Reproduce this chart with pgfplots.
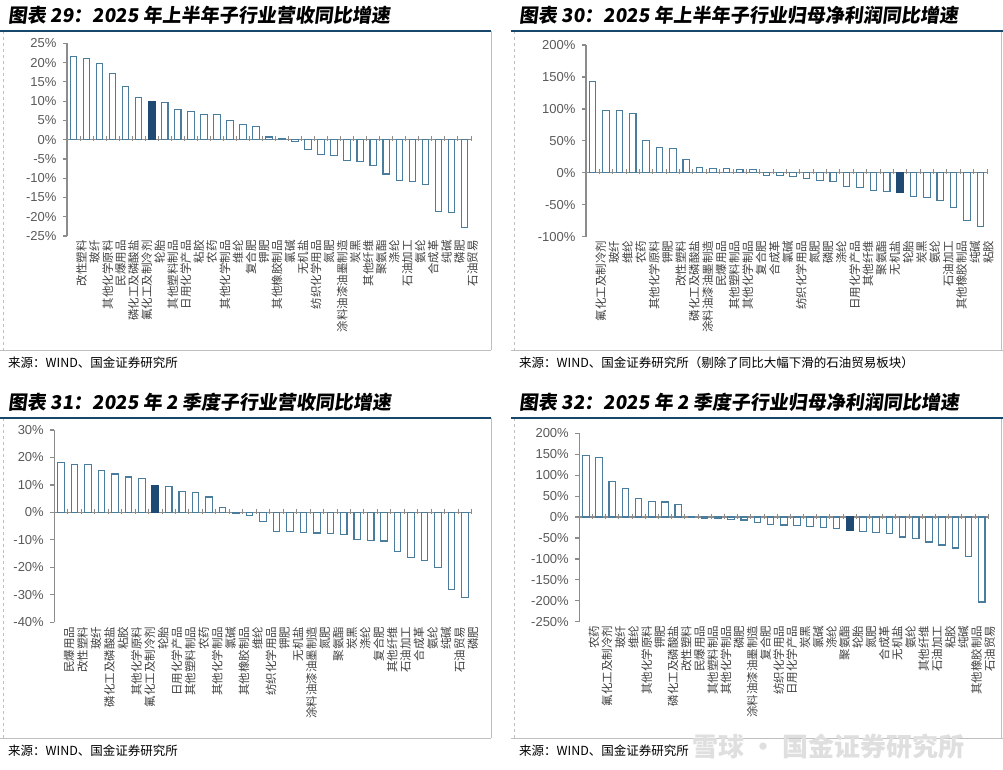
\documentclass[border=0pt]{standalone}
\usepackage{pgfplots}
\pgfplotsset{compat=1.18}
\usepackage{fontspec}
\setmainfont{Noto Sans CJK SC}
\newfontfamily\arial{Liberation Sans}
\newfontfamily\titlefont{Noto Sans CJK SC}[FakeSlant=0.12]

\definecolor{barline}{HTML}{4A7C9E}
\definecolor{darkbar}{HTML}{1F4A74}
\definecolor{axisgray}{HTML}{8C8C8C}
\definecolor{tickgray}{HTML}{595959}
\definecolor{labelgray}{HTML}{404040}
\definecolor{titleblue}{HTML}{17476B}
\definecolor{framegray}{HTML}{BFBFBF}

\pgfplotsset{
  panel/.style={
    anchor=south west, scale only axis, clip=false,
    axis y line*=left, axis x line*=bottom,
    x axis line style={draw=none},
    y axis line style={draw=axisgray, line width=1.2bp},
    xtick style={draw=none},
    ytick style={draw=axisgray, line width=1.2bp},
    tick align=outside, major tick length=4bp,
    yticklabel style={font=\arial\fontsize{13bp}{14bp}\selectfont, text=tickgray, xshift=-3bp},
    xticklabel style={rotate=90, anchor=east, inner sep=0pt, yshift=-8bp,
      font=\fontsize{11.5bp}{12bp}\selectfont, text=labelgray},
    extra y ticks={0}, extra y tick labels={},
    extra y tick style={grid=major, major grid style={draw=axisgray, line width=1.2bp}},
  },
  bars/.style={ybar, bar width=6.5bp, bar shift=0pt, draw=barline, fill=white, line width=1.1bp},
  hibar/.style={ybar, bar width=6.5bp, bar shift=0pt, draw=darkbar, fill=darkbar, line width=1.1bp},
  seps/.style={only marks, mark=|, mark size=2.5bp, mark options={draw=axisgray, line width=1bp, yshift=1bp}},
}

\begin{document}
\begin{tikzpicture}
\path[use as bounding box] (0,0) rectangle (1003bp,-770bp);

% frames
\foreach \yt/\yb in {31/350, 418/738} {
  \draw[framegray, line width=0.8bp] (491bp,-\yt bp) -- (491bp,-\yb bp);
  \draw[framegray, line width=0.8bp] (1001bp,-\yt bp) -- (1001bp,-\yb bp);
  \draw[framegray, line width=0.7bp, dashed] (3bp,-\yt bp) -- (3bp,-\yb bp);
  \draw[framegray, line width=0.7bp, dashed] (514bp,-\yt bp) -- (514bp,-\yb bp);
  \draw[framegray, line width=0.8bp] (0bp,-\yb bp) -- (491bp,-\yb bp);
  \draw[framegray, line width=0.8bp] (511bp,-\yb bp) -- (1003bp,-\yb bp);
  \draw[titleblue, line width=2bp] (0bp,-\yt bp) -- (491bp,-\yt bp);
  \draw[titleblue, line width=2bp] (511bp,-\yt bp) -- (1003bp,-\yt bp);
}

% titles
\tikzset{ttl/.style={anchor=west, inner sep=0pt, font=\titlefont\bfseries\fontsize{19bp}{22bp}\selectfont}}
\node[ttl] at (8bp,-15bp) {图表 29：2025 年上半年子行业营收同比增速};
\node[ttl] at (519bp,-15bp) {图表 30：2025 年上半年子行业归母净利润同比增速};
\node[ttl] at (8bp,-402bp) {图表 31：2025 年 2 季度子行业营收同比增速};
\node[ttl] at (519bp,-402bp) {图表 32：2025 年 2 季度子行业归母净利润同比增速};

% sources
\tikzset{src/.style={anchor=west, inner sep=0pt, font=\fontsize{12.5bp}{14bp}\selectfont}}
\node[src] at (8bp,-363bp) {来源：WIND、国金证券研究所};
\node[src] at (519bp,-363bp) {来源：WIND、国金证券研究所（剔除了同比大幅下滑的石油贸易板块）};
\node[src] at (8bp,-751bp) {来源：WIND、国金证券研究所};
\node[src] at (519bp,-751bp) {来源：WIND、国金证券研究所};
\node[anchor=west, inner sep=0pt, text=gray!25, font=\bfseries\fontsize{26bp}{28bp}\selectfont] at (692bp,-747bp) {雪球 · 国金证券研究所};

% ---------- panel 29 ----------
\begin{axis}[panel, at={(67bp,-236bp)}, width=404bp, height=192.7bp,
  xmin=-0.5, xmax=30.5, ymin=-25, ymax=25,
  ytick={-25,-20,...,25},
  yticklabels={-25\%,-20\%,-15\%,-10\%,-5\%,0\%,5\%,10\%,15\%,20\%,25\%},
  xtick={0,...,30},
  xticklabels={改性塑料,玻纤,其他化学原料,民爆用品,磷化工及磷酸盐,氟化工及制冷剂,轮胎,其他塑料制品,日用化学产品,粘胶,农药,其他化学制品,维纶,复合肥,钾肥,其他橡胶制品,氯碱,无机盐,纺织化学用品,氮肥,涂料油漆油墨制造,炭黑,其他纤维,聚氨酯,涤纶,石油加工,氨纶,合成革,纯碱,磷肥,石油贸易},
]
\addplot[bars] coordinates {(0,21.5)(1,21.1)(2,19.7)(3,17.1)(4,13.9)(5,11.0)
  (7,9.6)(8,7.8)(9,7.4)(10,6.6)(11,6.6)(12,4.9)(13,3.9)(14,3.5)(15,0.7)(16,0.3)
  (17,-0.4)(18,-2.5)(19,-3.8)(20,-4.1)(21,-5.3)(22,-5.6)(23,-6.7)(24,-8.9)
  (25,-10.5)(26,-10.8)(27,-11.6)(28,-18.6)(29,-19.0)(30,-22.8)};
\addplot[hibar] coordinates {(6,9.9)};
\addplot[seps] coordinates {(0.5,0)(1.5,0)(2.5,0)(3.5,0)(4.5,0)(5.5,0)(6.5,0)(7.5,0)
  (8.5,0)(9.5,0)(10.5,0)(11.5,0)(12.5,0)(13.5,0)(14.5,0)(15.5,0)(16.5,0)(17.5,0)
  (18.5,0)(19.5,0)(20.5,0)(21.5,0)(22.5,0)(23.5,0)(24.5,0)(25.5,0)(26.5,0)(27.5,0)
  (28.5,0)(29.5,0)(30.5,0)};
\end{axis}

% ---------- panel 30 ----------
\begin{axis}[panel, at={(586bp,-236.7bp)}, width=401bp, height=191.7bp,
  xmin=-0.5, xmax=29.5, ymin=-100, ymax=200,
  ytick={-100,-50,...,200},
  yticklabels={-100\%,-50\%,0\%,50\%,100\%,150\%,200\%},
  xtick={0,...,29},
  xticklabels={氟化工及制冷剂,玻纤,维纶,农药,其他化学原料,钾肥,改性塑料,磷化工及磷酸盐,涂料油漆油墨制造,民爆用品,其他塑料制品,其他化学制品,复合肥,合成革,氯碱,纺织化学用品,氮肥,磷肥,涤纶,日用化学产品,其他纤维,聚氨酯,无机盐,轮胎,炭黑,氨纶,石油加工,其他橡胶制品,纯碱,粘胶},
]
\addplot[bars] coordinates {(0,142.6)(1,98.0)(2,97.6)(3,92.4)(4,50.6)(5,39.7)(6,38.1)
  (7,20.9)(8,8.4)(9,7.3)(10,6.8)(11,4.7)(12,4.7)(13,-3.7)(14,-4.2)(15,-5.2)
  (16,-8.9)(17,-12.0)(18,-14.1)(19,-21.4)(20,-22.5)(21,-27.7)(22,-29.8)
  (24,-37.0)(25,-38.6)(26,-43.3)(27,-53.8)(28,-74.0)(29,-84.0)};
\addplot[hibar] coordinates {(23,-30.8)};
\addplot[seps] coordinates {(0.5,0)(1.5,0)(2.5,0)(3.5,0)(4.5,0)(5.5,0)(6.5,0)(7.5,0)
  (8.5,0)(9.5,0)(10.5,0)(11.5,0)(12.5,0)(13.5,0)(14.5,0)(15.5,0)(16.5,0)(17.5,0)
  (18.5,0)(19.5,0)(20.5,0)(21.5,0)(22.5,0)(23.5,0)(24.5,0)(25.5,0)(26.5,0)(27.5,0)
  (28.5,0)(29.5,0)};
\end{axis}

% ---------- panel 31 ----------
\begin{axis}[panel, at={(54.3bp,-622.3bp)}, width=417.4bp, height=192.3bp,
  xmin=-0.5, xmax=30.5, ymin=-40, ymax=30,
  ytick={-40,-30,...,30},
  yticklabels={-40\%,-30\%,-20\%,-10\%,0\%,10\%,20\%,30\%},
  xtick={0,...,30},
  xticklabels={民爆用品,改性塑料,玻纤,磷化工及磷酸盐,粘胶,其他化学原料,氟化工及制冷剂,轮胎,日用化学产品,其他塑料制品,农药,其他化学制品,氯碱,其他橡胶制品,维纶,纺织化学用品,钾肥,无机盐,涂料油漆油墨制造,氮肥,聚氨酯,炭黑,涤纶,复合肥,其他纤维,石油加工,合成革,氨纶,纯碱,石油贸易,磷肥},
]
\addplot[bars] coordinates {(0,18.3)(1,17.6)(2,17.4)(3,15.3)(4,14.0)(5,12.9)(6,12.5)
  (8,9.3)(9,7.5)(10,7.2)(11,5.6)(12,1.8)(13,-0.2)(14,-1.0)(15,-3.4)(16,-6.9)
  (17,-6.9)(18,-7.3)(19,-7.5)(20,-7.7)(21,-8.1)(22,-9.8)(23,-10.3)(24,-10.4)
  (25,-14.1)(26,-16.3)(27,-17.6)(28,-20.1)(29,-28.0)(30,-30.9)};
\addplot[hibar] coordinates {(7,9.8)};
\addplot[seps] coordinates {(0.5,0)(1.5,0)(2.5,0)(3.5,0)(4.5,0)(5.5,0)(6.5,0)(7.5,0)
  (8.5,0)(9.5,0)(10.5,0)(11.5,0)(12.5,0)(13.5,0)(14.5,0)(15.5,0)(16.5,0)(17.5,0)
  (18.5,0)(19.5,0)(20.5,0)(21.5,0)(22.5,0)(23.5,0)(24.5,0)(25.5,0)(26.5,0)(27.5,0)
  (28.5,0)(29.5,0)(30.5,0)};
\end{axis}

% ---------- panel 32 ----------
\begin{axis}[panel, at={(579.3bp,-621.7bp)}, width=409bp, height=188.4bp,
  xmin=-0.5, xmax=30.5, ymin=-250, ymax=200,
  ytick={-250,-200,...,200},
  yticklabels={-250\%,-200\%,-150\%,-100\%,-50\%,0\%,50\%,100\%,150\%,200\%},
  xtick={0,...,30},
  xticklabels={农药,氟化工及制冷剂,玻纤,维纶,其他化学原料,钾肥,磷化工及磷酸盐,改性塑料,民爆用品,其他塑料制品,其他化学制品,磷肥,涂料油漆油墨制造,复合肥,纺织化学用品,日用化学产品,炭黑,氯碱,涤纶,聚氨酯,轮胎,氮肥,合成革,无机盐,氨纶,其他纤维,石油加工,粘胶,纯碱,其他橡胶制品,石油贸易},
]
\addplot[bars] coordinates {(0,148)(1,142)(2,84)(3,69)(4,44)(5,36.5)(6,36)(7,30)
  (8,0.5)(9,-3)(10,-4)(11,-5.5)(12,-7)(13,-13.5)(14,-18)(15,-19)(16,-21)(17,-23)
  (18,-26)(19,-27)(21,-34)(22,-36.5)(23,-39.7)(24,-47.6)(25,-52)(26,-59.5)
  (27,-66.7)(28,-74)(29,-95)(30,-203)};
\addplot[hibar] coordinates {(20,-33)};
\addplot[seps] coordinates {(0.5,0)(1.5,0)(2.5,0)(3.5,0)(4.5,0)(5.5,0)(6.5,0)(7.5,0)
  (8.5,0)(9.5,0)(10.5,0)(11.5,0)(12.5,0)(13.5,0)(14.5,0)(15.5,0)(16.5,0)(17.5,0)
  (18.5,0)(19.5,0)(20.5,0)(21.5,0)(22.5,0)(23.5,0)(24.5,0)(25.5,0)(26.5,0)(27.5,0)
  (28.5,0)(29.5,0)(30.5,0)};
\end{axis}
\end{tikzpicture}
\end{document}
